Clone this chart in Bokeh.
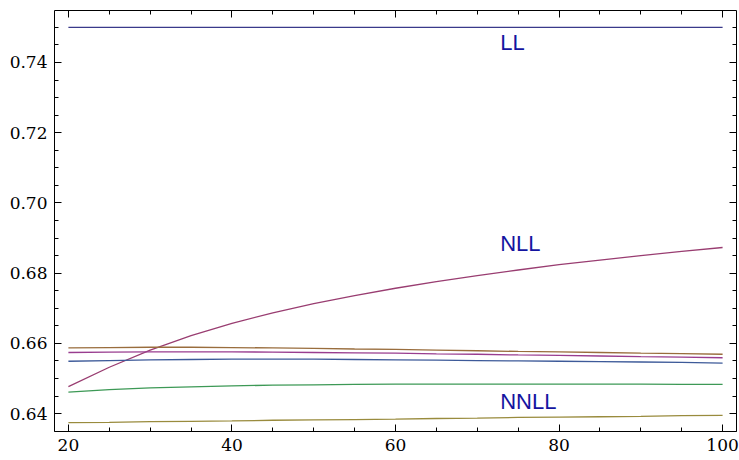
from bokeh.plotting import figure
from bokeh.models import LinearAxis, FixedTicker, Range1d, PrintfTickFormatter
from bokeh.core.properties import value
from bokeh.embed import file_html
from bokeh.resources import INLINE

# Scale values (x) at which each curve is sampled
x_vals = [20, 25, 30, 35, 40, 45, 50, 55, 60, 65, 70, 75, 80, 85, 90, 95, 100]

# Curves
ll_vals = [0.7500] * 17
nll_vals = [0.6477, 0.6532, 0.6581, 0.6622, 0.6657, 0.6687, 0.6713, 0.6736, 0.6757,
            0.6776, 0.6793, 0.6809, 0.6824, 0.6837, 0.6850, 0.6862, 0.6873]
brown_vals = [0.6587, 0.6588, 0.6589, 0.6589, 0.6588, 0.6587, 0.6586, 0.6584, 0.6583,
              0.6581, 0.6579, 0.6577, 0.6576, 0.6574, 0.6572, 0.6571, 0.6569]
pink_vals = [0.6574, 0.6575, 0.6576, 0.6576, 0.6576, 0.6575, 0.6574, 0.6573, 0.6572,
             0.6570, 0.6569, 0.6567, 0.6566, 0.6564, 0.6562, 0.6561, 0.6559]
blue_vals = [0.6549, 0.6551, 0.6553, 0.6554, 0.6555, 0.6555, 0.6555, 0.6554, 0.6553,
             0.6552, 0.6551, 0.6550, 0.6549, 0.6548, 0.6547, 0.6546, 0.6544]
green_vals = [0.6461, 0.6468, 0.6473, 0.6476, 0.6479, 0.6481, 0.6482, 0.6483, 0.6484,
              0.6484, 0.6484, 0.6484, 0.6484, 0.6484, 0.6484, 0.6483, 0.6483]
nnll_vals = [0.6374, 0.6375, 0.6377, 0.6378, 0.6379, 0.6381, 0.6382, 0.6383, 0.6384,
             0.6386, 0.6387, 0.6389, 0.6390, 0.6391, 0.6392, 0.6394, 0.6395]

# Curve labels and where they sit
label_texts = ["LL", "NLL", "NNLL"]
label_x = [72.8, 72.8, 72.8]
label_y = [0.7456, 0.6885, 0.6434]

x_ticks = [20, 40, 60, 80, 100]
y_ticks = [0.64, 0.66, 0.68, 0.70, 0.72, 0.74]
x_minor = [float(v) for v in range(20, 101, 5)]
y_minor = [round(0.635 + 0.005 * i, 3) for i in range(24)]

p = figure(width=739, height=460, output_backend="svg", toolbar_location=None,
           x_axis_type=None, y_axis_type=None,
           x_range=Range1d(18.3, 101.7), y_range=Range1d(0.6349, 0.7548),
           min_border_left=54, min_border_right=3, min_border_top=10,
           min_border_bottom=29)
p.outline_line_color = None
p.background_fill_color = "white"
p.border_fill_color = "white"
p.xgrid.visible = False
p.ygrid.visible = False

series = [
    (ll_vals, "#3a3a8a"),
    (nll_vals, "#993d71"),
    (brown_vals, "#996d3d"),
    (pink_vals, "#993d8f"),
    (blue_vals, "#3d5a99"),
    (green_vals, "#3d9956"),
    (nnll_vals, "#998b3d"),
]
for ys, col in series:
    p.line(x_vals, ys, line_color=col, line_width=1.3)

p.text(x=label_x, y=label_y, text=label_texts, text_color="#1414a0",
       text_font=value("Liberation Sans"), text_font_size="22px",
       text_baseline="middle", text_align="left")


def make_axis(is_x, show_labels):
    major = x_ticks if is_x else y_ticks
    minor = x_minor if is_x else y_minor
    ax = LinearAxis(ticker=FixedTicker(ticks=major, minor_ticks=minor),
                    major_label_text_font="DejaVu Serif",
                    major_label_text_font_size="17px")
    ax.axis_line_color = "black"
    ax.axis_line_width = 1
    ax.major_tick_in = 7
    ax.major_tick_out = 0
    ax.minor_tick_in = 4
    ax.minor_tick_out = 0
    ax.major_tick_line_color = "black"
    ax.minor_tick_line_color = "black"
    ax.major_label_text_color = "black"
    ax.major_label_standoff = 7
    if is_x:
        ax.formatter = PrintfTickFormatter(format="%d")
    else:
        ax.formatter = PrintfTickFormatter(format="%.2f")
    if not show_labels:
        ax.major_label_overrides = {t: "" for t in major}
    return ax


p.add_layout(make_axis(True, True), "below")
p.add_layout(make_axis(False, True), "left")
p.add_layout(make_axis(True, False), "above")
p.add_layout(make_axis(False, False), "right")

open("out.html", "w").write(file_html(p, INLINE))
